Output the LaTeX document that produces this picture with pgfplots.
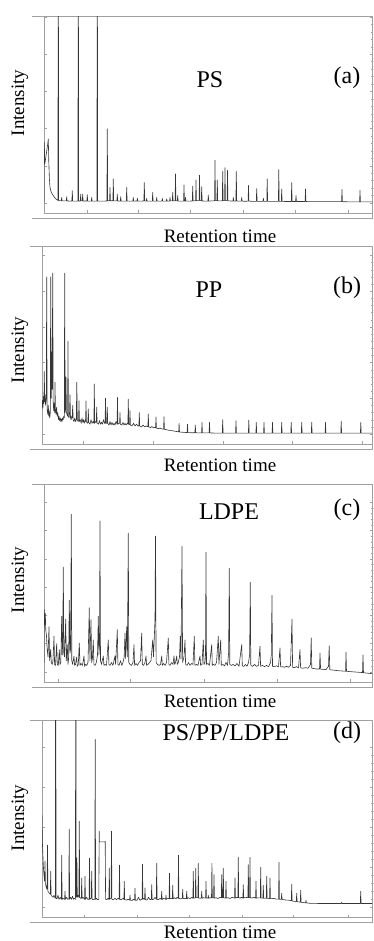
\documentclass[border=0pt]{standalone}
\usepackage{fontspec}
\setmainfont{Liberation Serif}
\usepackage{pgfplots}
\pgfplotsset{compat=1.18}
\definecolor{framec}{HTML}{A0A0A0}
\definecolor{chromc}{HTML}{363636}
\pgfplotsset{
  chromaxis/.style={scale only axis, anchor=south west, clip mode=individual,
    axis line style={framec, line width=0.5pt},
    tick style={framec, line width=0.4pt},
    major tick length=2.5pt, minor tick length=1.2pt, minor tick num=4,
    xtick pos=lower, ytick pos=both, xticklabels={}, yticklabels={}, tick align=inside},
  chrom/.style={chromc, line width=0.6pt, line join=round, no marks},
}
\newcommand{\outerframe}{%
  \draw[framec,line width=0.5pt] ([xshift=-12pt]rel axis cs:0,1) -- (rel axis cs:0,1);
  \draw[framec,line width=0.5pt] ([xshift=-12pt,yshift=-5pt]rel axis cs:0,0) -- ([yshift=-5pt]rel axis cs:1,0) -- (rel axis cs:1,0);
}
\newcommand{\lab}{\fontsize{19pt}{22pt}\selectfont}
\newcommand{\ttl}{\fontsize{24pt}{28pt}\selectfont}
\begin{document}
\begin{tikzpicture}
\path[use as bounding box] (0,0) rectangle (374pt,941pt);
% ---------------- (a) PS ----------------
\begin{axis}[chromaxis, at={(44pt,728pt)}, width=328.5pt, height=196.5pt,
  xmin=44, xmax=372.5, ymin=-5.38, ymax=100.3,
  xtick={86.7,138.3,190,243.3,295,348.3}, ytick={0,20,40,60,80,100}]
\addplot[chrom] coordinates {(44,0.5) (44.3,32.7) (44.8,21) (45.4,23) (46.2,26) (47,29) (47.8,32) (48.3,34.5) (48.8,22) (49.4,13) (50,8.4) (51,6.2) (52,5) (53.3,4) (54.5,3) (55.8,2.2) (57,1.7) (57.9,1.4) (58.3,150) (58.7,1.3) (60,1.2) (61.3,1.1) (61.7,3) (62.1,1.1) (64,1.1) (66.3,1.1) (66.7,3.4) (67.1,1.1) (70,1) (71.9,1.1) (72.3,6.6) (72.7,1) (75,1) (77.9,1) (78.3,150) (78.7,1) (80.3,1.1) (80.7,4.8) (81.1,1.1) (82.3,1.1) (82.7,4.8) (83.1,1) (85,1.1) (86.9,1) (87.3,4.5) (87.7,1) (91.3,1) (91.7,3) (92.1,1) (94,1) (96.9,1) (97.3,150) (97.7,1) (100,1) (104,1) (106.9,1.1) (107.3,39.9) (107.7,1.2) (109.6,1.2) (110,8.4) (110.4,1.2) (112.9,1.2) (113.3,13) (113.7,1.1) (116.9,1.1) (117.3,4.8) (117.7,1.1) (120.3,1) (120.7,3.4) (121.1,1) (124,1) (126.3,1) (126.7,8.4) (127.1,1) (130,1) (132.9,1) (133.3,3) (133.7,1) (137,1.1) (137.4,2.5) (137.8,1) (141,1) (143.9,1.1) (144.3,11) (144.7,1.1) (146.3,1) (146.7,2.5) (147.1,1) (150,1) (152.3,1) (152.7,5.7) (153.1,1) (156.3,1) (156.7,3) (157.1,1) (159,1) (161.9,1) (162.3,2.5) (162.7,1) (166.3,1) (166.7,2.2) (167.1,1) (169.6,1) (170,3) (170.4,1.1) (172.3,1.1) (172.7,5.7) (173.1,1.1) (175.1,1.2) (175.5,15.6) (175.9,1.2) (177.3,1.1) (177.7,4) (178.1,1) (181,1) (183.6,1) (184,9.7) (184.4,1) (185.1,1) (185.5,3) (185.9,1) (189,1) (192.3,1.1) (192.7,9) (193.1,1.1) (195.6,1.2) (196,12.4) (196.4,1.2) (199.1,1.3) (199.5,15) (199.9,1.3) (201.3,1.2) (201.7,8.8) (202.1,1.1) (205,1) (207.9,1) (208.3,4.3) (208.7,1) (211,1.1) (214.6,1.2) (215,23) (215.4,1.3) (216.9,1.3) (217.3,12.4) (217.7,1.2) (220,1.1) (222.3,1.2) (222.7,17) (223.1,1.3) (224.6,1.3) (225,19) (225.4,1.3) (227.1,1.3) (227.5,17.5) (227.9,1.2) (230,1.1) (232.9,1) (233.3,3) (233.7,1) (235.9,1.1) (236.3,17) (236.7,1.1) (239,1) (241.3,1) (241.7,3) (242.1,1) (245,0.9) (248.1,1) (248.5,9.5) (248.9,1) (252,0.9) (256.3,0.9) (256.7,7.7) (257.1,0.9) (260,0.9) (263,0.9) (263.4,2.5) (263.8,0.9) (266.8,0.9) (267.2,13) (267.6,0.9) (271,0.9) (275,0.9) (278.4,0.9) (278.8,18) (279.2,0.9) (281.3,0.9) (281.7,7.5) (282.1,0.9) (285,0.8) (288,0.8) (291.3,0.8) (291.7,11) (292.1,0.8) (295.6,0.8) (296,4) (296.4,0.8) (300,0.8) (305.1,0.8) (305.5,7.5) (305.9,0.8) (310,0.7) (320,0.7) (330,0.7) (341.6,0.7) (342,7.3) (342.4,0.7) (350,0.6) (359.6,0.6) (360,6.8) (360.4,0.6) (366,0.6) (372.5,0.6)};
\outerframe
\end{axis}
% ---------------- (b) PP ----------------
\begin{axis}[chromaxis, at={(42pt,497pt)}, width=330pt, height=197.3pt,
  xmin=42, xmax=372, ymin=-5.6, ymax=104.9,
  xtick={83.3,153.3,222.7,292.3,362}, ytick={0,20,40,60,80,100}]
\addplot[chrom] coordinates {(42,14) (42.5,19) (43,15) (43.5,21) (43.9,17) (44.3,35) (44.7,18) (45.2,22) (45.6,16) (46.3,20) (46.7,88) (47.1,14) (47.8,11) (48.3,16) (48.8,10) (49.3,13) (49.8,9) (50.3,12) (50.7,88) (51.2,20) (51.7,46) (52.2,25) (52.7,90) (53.2,18) (53.7,13) (54.3,17) (54.7,12) (55,29) (55.4,14) (56,11) (56.6,15) (57.2,10) (57.8,12) (58.4,8) (59,10) (59.6,7.5) (60.2,9) (60.8,7) (61.4,8.5) (62,7) (62.6,9) (63.2,8) (63.8,10) (64.3,9) (64.7,90) (65.1,12) (65.6,14) (66,32) (66.4,12) (67,11) (67.6,10) (68,52) (68.4,10) (69,9) (69.5,11) (70,22) (70.5,9) (71.2,8) (71.8,10) (72.2,9) (72.7,16) (73.2,8) (74,7) (74.8,9) (75.5,7) (76.3,8) (76.8,29) (77.3,8) (78.2,7) (78.6,8) (79,18.7) (79.4,7) (80.3,8) (81.2,6) (82,9) (82.8,6.5) (83.5,8) (84.3,6) (85.2,8) (85.6,7) (86,18.5) (86.4,7) (87.3,6) (87.9,6.5) (88.3,14) (88.7,6.5) (90,5.5) (91,8) (92,6) (93,7) (93.9,6) (94.3,28) (94.7,6) (95.6,7) (96.3,6.5) (96.7,15) (97.1,6) (98.5,5.5) (99.5,7.5) (100.5,5.5) (101.5,6.5) (102.5,5.5) (103.5,8) (104.5,6) (105.1,6) (105.5,20) (105.9,6) (106.9,6) (107.3,15) (107.7,6) (109,5) (110,7) (111,5) (112,6.5) (113,5) (114,6) (115,5) (116,7) (117.1,5.5) (117.5,20.5) (117.9,5.5) (119.3,6) (119.6,6) (120,12) (120.4,5.5) (121.8,5) (123,6.5) (124,5) (125,6) (126,5) (127.2,6) (127.9,5.5) (128.3,19.5) (128.7,5.5) (129.6,5.3) (130,13) (130.4,5) (132,4.5) (133.5,6) (135,4.5) (136.5,5.5) (138,4.5) (138.9,4.5) (139.3,12) (139.7,4.5) (141.5,4) (143,5) (144.5,4) (146,4.5) (147.9,4) (148.3,11.2) (148.7,4) (150.5,3.6) (152,4.2) (153.5,3.4) (155,3.8) (155.6,3.4) (156,9.5) (156.4,3.3) (158.5,3) (160,3.3) (162,2.8) (163.6,2.7) (164,9.7) (164.4,2.6) (166.5,2.4) (168.5,2.1) (170.5,2) (172.5,1.8) (174.5,1.6) (176.5,1.4) (178.7,1.2) (179.1,6) (179.5,1.1) (182,1) (184.5,0.9) (187.1,0.8) (187.5,5.5) (187.9,0.8) (191,0.7) (194.9,0.7) (195.3,5) (195.7,0.7) (199,0.6) (201.6,0.6) (202,6.5) (202.4,0.6) (205,0.6) (209.1,0.6) (209.5,6.5) (209.9,0.6) (215,0.5) (222.3,0.5) (222.7,8) (223.1,0.5) (229,0.5) (235.6,0.5) (236,7.5) (236.4,0.5) (242,0.5) (248.4,0.5) (248.8,7.8) (249.2,0.5) (255.9,0.5) (256.3,6.5) (256.7,0.5) (263.6,0.5) (264,6.5) (264.4,0.5) (272.1,0.5) (272.5,6.5) (272.9,0.5) (281.3,0.5) (281.7,6.5) (282.1,0.5) (290.8,0.5) (291.2,6.5) (291.6,0.5) (301.3,0.5) (301.7,6.5) (302.1,0.5) (311.3,0.5) (311.7,6.5) (312.1,0.5) (318,0.5) (325.1,0.5) (325.5,6.5) (325.9,0.5) (333,0.5) (340.8,0.5) (341.2,7) (341.6,0.5) (350,0.5) (360.4,0.5) (360.8,6.5) (361.2,0.5) (366,0.5) (372,0.5)};
\outerframe
\end{axis}
% ---------------- (c) LDPE ----------------
\begin{axis}[chromaxis, at={(44pt,259pt)}, width=328pt, height=197.3pt,
  xmin=44, xmax=372, ymin=-5.3, ymax=99.2,
  xtick={58.3,130,204,276.7,350}, ytick={0,15,30,45,60,75,90}]
\addplot[chrom] coordinates {(44,5) (44.3,33) (44.8,25) (45.3,31) (45.8,22) (46.5,19) (47.2,12) (48,8) (49,24) (49.6,6) (50.7,12) (51.3,5) (52.2,4) (53,6) (54,19) (54.6,4) (55.5,3.5) (56.7,15) (57.3,4) (58.3,3.5) (59.3,11.8) (60,4) (60.8,5) (61.7,29.5) (62.3,9) (62.8,20) (63.3,55.5) (63.8,10) (64.5,8) (65.7,28) (66.3,6) (67.3,14.5) (67.9,4) (68.6,7) (69.3,38) (69.9,10) (70.6,12) (71.3,83.5) (71.8,6) (72.6,4) (74,8.3) (74.6,3.5) (75.5,4) (76.7,8) (77.3,3) (78.3,4) (79.3,15.4) (80,3.5) (81,4.5) (82.5,3.5) (84,8.5) (84.6,3) (85.7,4) (86.8,3.5) (88,5) (89.3,34) (89.9,6) (91,27.7) (91.6,5) (92.4,7) (93.3,17) (93.9,4) (95,3.5) (96.3,5) (97.5,9) (98.3,29.5) (98.9,9) (99.5,14) (100,80) (100.5,6) (101.5,4) (103.3,8.5) (103.9,3.5) (105,4) (106.5,3.5) (108.3,17) (108.9,4) (110,3.5) (111.5,5) (113,3.5) (115,8.5) (115.6,4) (117.3,22.4) (117.9,4) (119,3.5) (120.5,6) (121.8,3.5) (123,5) (124.2,8) (125,20.6) (125.6,7) (126.7,24) (127.4,8) (128.3,73.5) (128.8,5) (130,4) (131.5,3.5) (133,5) (134,14.5) (134.6,3.5) (136,4.5) (137.5,3.5) (139,5) (140.5,6) (141.7,20.6) (142.3,4) (143.5,3.5) (145,5) (146,8.5) (146.6,3.5) (148,4) (149.5,5) (151,6) (152.7,17) (153.5,8) (155,27.7) (155.5,72) (156.1,5) (157.5,4) (159,3.5) (160.5,4) (161.7,8.5) (162.3,3.5) (163.5,4.5) (165,3.5) (166.5,5) (168.3,18) (168.9,4) (170,3.5) (171.5,5) (173,4) (174,8.5) (174.6,4) (175.5,5) (176.7,8.5) (177.3,4) (178.3,5) (179.5,8) (180.3,19) (181,7) (182,66.5) (182.6,5) (184,8) (185,17) (185.6,4) (187,3.5) (188.5,5) (190,3.5) (191.5,4.5) (193,4) (194.3,19) (194.9,3.5) (196.5,4) (198,3.5) (200,8.5) (200.6,3.5) (202,4) (203.3,17) (204,4) (205,5) (205.5,9) (206,63.5) (206.5,4) (208,4.5) (209.5,3.5) (211.7,14.5) (212.3,3.5) (213.5,4) (215,3.5) (216.5,5) (218.3,19) (218.9,4) (220.7,17) (221.3,3.5) (223,4) (224.5,3.2) (226,5) (227.5,3.5) (228.6,10) (229.3,55) (229.8,4) (231.5,3.5) (233,4) (235,3.2) (237,4.5) (239,3) (241.7,14.5) (242.3,3.2) (244,3) (245.5,4) (247,3) (248.5,5) (249.6,9) (250.3,47.5) (250.8,3.5) (252.5,3) (254.5,4) (256.5,3) (258.5,3.5) (260,13.6) (260.6,3) (262.5,3.5) (264.5,2.8) (266.5,3.5) (268.5,2.8) (270.5,5) (271.3,9) (272,40.5) (272.5,3) (274.5,2.8) (276.5,3.3) (278.5,2.7) (280,12.7) (280.6,2.7) (282.5,2.8) (284.5,2.5) (286.5,3) (288.5,2.5) (290.5,3.5) (292,28) (292.6,2.5) (294.5,2.3) (296.5,2.8) (298.5,2.2) (300,11.8) (300.6,2.2) (303,2) (305.5,2.3) (308,2) (310.5,4) (311.2,18) (311.8,2) (314,1.8) (316.5,1.6) (319.5,1.6) (320,10) (320.6,1.5) (323,1.4) (326,1.3) (328.5,3) (329.2,13.8) (329.8,1.2) (333,1) (336,0.8) (340,0.6) (345.6,0.4) (346,10.5) (346.5,0.4) (350,0.2) (355,0) (360,-0.2) (362.5,-0.3) (363,9) (363.5,-0.4) (367,-0.6) (372,-0.9)};
\outerframe
\end{axis}
% ---------------- (d) PS/PP/LDPE ----------------
\begin{axis}[chromaxis, at={(42pt,24pt)}, width=330pt, height=196.3pt,
  xmin=42, xmax=372, ymin=-4.85, ymax=93.3,
  xtick={84.3,136.7,189,241.7,293.3,348.3}, ytick={0,20,40,60,80}]
\addplot[chrom] coordinates {(42,46) (42.4,32) (42.9,26) (43.4,20) (44,16) (44.6,13) (45,23) (45.4,12) (46.2,10) (47,9) (47.5,31) (47.9,8) (48.7,7.5) (49.5,7) (50.3,6.5) (50.7,18) (51.1,6) (52,5.5) (53,5) (54,6) (54.8,4.8) (55.3,4.6) (55.7,150) (56.1,4.5) (57,4.2) (58,6) (59,4) (60.3,5) (61.3,4) (61.7,26) (62.1,4) (63,4.5) (64.6,4) (65,8) (65.4,4) (66.5,5) (67.8,4) (68.8,4.2) (69.2,39) (69.6,4) (70.5,5) (71.5,4) (72.5,5.5) (73.5,4) (74.5,4.5) (75.4,4) (75.8,150) (76.2,5) (76.6,7) (76.9,24.7) (77.3,5) (78.1,6) (78.9,5) (79.3,43) (79.7,5) (80.7,4.5) (81.3,4.5) (81.7,14.7) (82.1,4.5) (83,5) (84.6,4) (85,15.5) (85.4,4) (86.5,5) (87.8,4) (89.1,4) (89.5,24.5) (89.9,4) (90.8,4.5) (91.3,4.5) (91.7,18) (92.1,4) (93.2,3.8) (94.3,4) (94.8,4) (95.2,84) (95.6,4) (96.5,4.5) (97.5,3.8) (98.8,4) (99.2,38) (99.4,32.7) (105,32.7) (105.2,33) (105.6,4) (106.8,3.8) (108,4.5) (108.9,4) (109.3,19.7) (109.7,4) (110.6,4.5) (111.1,4.5) (111.5,38) (111.9,4) (113.5,3.8) (115,4.5) (116.5,3.8) (118,4.5) (119.1,4) (119.5,21) (119.9,4) (121.5,3.8) (123,4.5) (123.9,4) (124.3,13) (124.7,3.8) (126.5,3.6) (128,4) (129.6,3.6) (130,6) (130.4,3.6) (132,3.4) (133.5,4) (134.6,3.6) (135,9.5) (135.4,3.5) (137,3.5) (138.5,5) (140,3.5) (141.2,4) (142.1,4) (142.5,21.5) (142.9,4) (143.8,4.5) (144.6,4) (145,9.7) (145.4,3.8) (147,3.6) (148.5,5) (150,3.8) (151.3,4) (151.7,11.3) (152.1,3.8) (153.5,4) (155,5) (156.3,4) (156.7,22) (157.1,4) (158.5,3.8) (160,4.5) (161.3,4) (161.7,8) (162.1,3.8) (163.5,4.5) (165.6,4) (166,6) (166.4,4) (167.8,4.5) (169.1,4.2) (169.5,17) (169.9,4.2) (171.2,4.5) (172.3,4.2) (172.7,11) (173.1,4.2) (174.5,4.8) (176,4.2) (177,5) (178.1,4.5) (178.5,26) (178.9,4.5) (180.5,4.2) (182.3,4.5) (182.7,9) (183.1,4.3) (185,4.5) (186.3,4.3) (186.7,8) (187.1,4.3) (188.5,4.8) (190,4.3) (191.8,5) (192.9,4.5) (193.3,18) (193.7,4.6) (195.3,4.8) (195.7,19.5) (196.1,4.8) (197.9,4.8) (198.3,22) (198.7,4.7) (200,4.5) (201.3,4.6) (201.7,8) (202.1,4.5) (203.5,4.8) (205.6,4.6) (206,13) (206.4,4.6) (207.9,4.6) (208.3,6) (208.7,4.5) (210,4.8) (211.5,4.7) (211.9,22) (212.3,4.7) (213.6,4.7) (214,16.3) (214.4,4.6) (216,4.8) (218,4.4) (220,5) (221.3,4.7) (221.7,16.3) (222.1,4.7) (222.9,4.8) (223.3,19.5) (223.7,4.8) (225.6,4.6) (226,13) (226.4,4.6) (228,4.8) (230,4.4) (232,5) (234.6,4.6) (235,14.7) (235.4,4.6) (236.5,5) (237.9,4.8) (238.3,25) (238.7,4.8) (240,4.6) (241.5,5) (242.9,4.6) (243.3,11.3) (243.7,4.6) (245,5) (247.9,4.8) (248.3,21.3) (248.7,4.8) (249.6,4.8) (250,25) (250.4,4.8) (252,4.6) (254,5) (255.6,4.6) (256,13) (256.4,4.6) (258,4.7) (260.3,4.7) (260.7,20) (261.1,4.6) (262.9,4.6) (263.3,11) (263.7,4.5) (265,4.6) (266.3,4.5) (266.7,15.5) (267.1,4.5) (269.6,4.4) (270,14.7) (270.4,4.4) (272,4.3) (274,4.5) (276,4.1) (278.6,4.1) (279,22.5) (279.4,4) (281.3,4) (281.7,7) (282.1,3.9) (284,3.8) (286,3.6) (288,3.6) (291.3,3.3) (291.7,11.5) (292.1,3.2) (294,3) (296.3,2.9) (296.7,7) (297.1,2.8) (298.5,2.7) (300.3,2.6) (300.7,8.5) (301.1,2.5) (303,2.4) (305.6,2.2) (306,3.5) (306.4,2.2) (310,2) (320,1.9) (330,1.9) (341.3,1.9) (341.7,2.5) (342.1,1.9) (350,1.9) (360.3,1.9) (360.7,8) (361.1,1.9) (366,1.9) (372,1.9)};
\outerframe
\end{axis}
% ---------------- labels ----------------
\node[font=\lab, rotate=90] at (20pt,838pt) {Intensity};
\node[font=\lab] at (220pt,705pt) {Retention time};
\node[font=\ttl] at (210pt,861pt) {PS};
\node[font=\ttl] at (347pt,863pt) {(a)};
\node[font=\lab, rotate=90] at (20pt,591pt) {Intensity};
\node[font=\lab] at (220pt,476pt) {Retention time};
\node[font=\ttl] at (209pt,651pt) {PP};
\node[font=\ttl] at (347pt,653pt) {(b)};
\node[font=\lab, rotate=90] at (20pt,361pt) {Intensity};
\node[font=\lab] at (220pt,240pt) {Retention time};
\node[font=\ttl] at (229pt,429pt) {LDPE};
\node[font=\ttl] at (347pt,431pt) {(c)};
\node[font=\lab, rotate=90] at (20pt,123pt) {Intensity};
\node[font=\lab] at (220pt,9pt) {Retention time};
\node[font=\ttl] at (226pt,208pt) {PS/PP/LDPE};
\node[font=\ttl] at (347pt,208pt) {(d)};
\end{tikzpicture}
\end{document}
